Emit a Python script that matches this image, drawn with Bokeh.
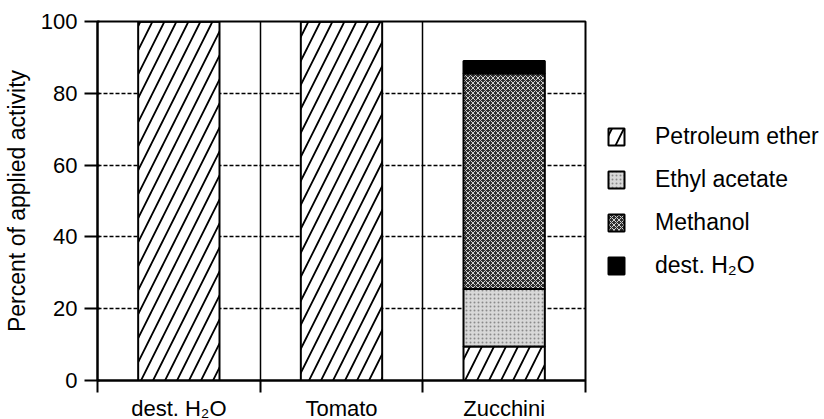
from bokeh.plotting import figure
from bokeh.models import Range1d, FixedTicker, Legend, LegendItem, ColumnDataSource
from bokeh.embed import file_html
from bokeh.resources import INLINE

categories = ["dest. H\u2082O", "Tomato", "Zucchini"]
series_names = ["Petroleum ether", "Ethyl acetate", "Methanol", "dest. H\u2082O"]
petroleum_ether = [100, 100, 9.5]
ethyl_acetate = [0, 0, 16]
methanol = [0, 0, 60]
dest_water = [0, 0, 3.5]
y_ticks = [0, 20, 40, 60, 80, 100]

FONT = "Liberation Sans"
n = len(categories)
centers = [i + 0.5 for i in range(n)]
bounds = list(range(n + 1))

source = ColumnDataSource(dict(x=centers, pe=petroleum_ether, ea=ethyl_acetate,
                               me=methanol, wa=dest_water))

p = figure(frame_width=488, frame_height=359, x_range=Range1d(0, n), y_range=Range1d(0, 100),
           output_backend="svg", toolbar_location=None,
           min_border_left=91, min_border_right=231, min_border_top=21,
           min_border_bottom=38)
p.outline_line_color = "black"
p.outline_line_width = 2

# grids
p.ygrid.ticker = FixedTicker(ticks=[20, 40, 60, 80])
p.ygrid.grid_line_color = "black"
p.ygrid.grid_line_dash = "4 2"
p.ygrid.grid_line_width = 1.3
p.xgrid.ticker = FixedTicker(ticks=bounds[1:-1])
p.xgrid.grid_line_color = "black"
p.xgrid.grid_line_width = 1.5

renderers = p.vbar_stack(
    ["pe", "ea", "me", "wa"], x="x", width=0.5, source=source,
    fill_color=["white", "#d8d8d8", "#2e2e2e", "black"],
    line_color="black", line_width=2,
    hatch_pattern=["/", ".", "x", " "],
    hatch_color=["black", "#8a8a8a", "#d0d0d0", "black"],
    hatch_scale=[24, 4, 5, 6],
    hatch_weight=[1.8, 1, 1, 1],
)

# x axis: labels at centers, ticks at category boundaries
xa = p.xaxis[0]
xa.ticker = FixedTicker(ticks=centers, minor_ticks=bounds)
xa.major_label_overrides = {c: lab for c, lab in zip(centers, categories)}
xa.major_tick_out = 0
xa.major_tick_in = 0
xa.minor_tick_out = 12
xa.minor_tick_in = 0
xa.minor_tick_line_width = 2
xa.minor_tick_line_color = "black"
xa.axis_line_width = 2
xa.axis_line_color = "black"
xa.major_label_standoff = 3
xa.major_label_text_font = FONT
xa.major_label_text_font_size = "22px"
xa.major_label_text_color = "black"

ya = p.yaxis[0]
ya.ticker = FixedTicker(ticks=y_ticks)
ya.major_tick_out = 13
ya.major_tick_in = 2
ya.major_tick_line_width = 2
ya.minor_tick_out = 0
ya.axis_line_width = 2
ya.axis_line_color = "black"
ya.major_label_standoff = 7
ya.major_label_text_font = FONT
ya.major_label_text_font_size = "22px"
ya.major_label_text_color = "black"
ya.axis_label = "Percent of applied activity"
ya.axis_label_text_font = FONT
ya.axis_label_text_font_size = "23px"
ya.axis_label_text_font_style = "normal"
ya.axis_label_text_color = "black"
ya.axis_label_standoff = 8

legend = Legend(items=[LegendItem(label=nm, renderers=[r]) for nm, r in zip(series_names, renderers)],
                location="center_left", margin=21, padding=0,
                border_line_alpha=0, background_fill_alpha=0,
                glyph_width=20, glyph_height=21, label_standoff=29, spacing=16,
                label_text_font=FONT, label_text_font_size="23px",
                label_text_color="black")
p.add_layout(legend, "right")

open("out.html", "w").write(file_html(p, INLINE))
